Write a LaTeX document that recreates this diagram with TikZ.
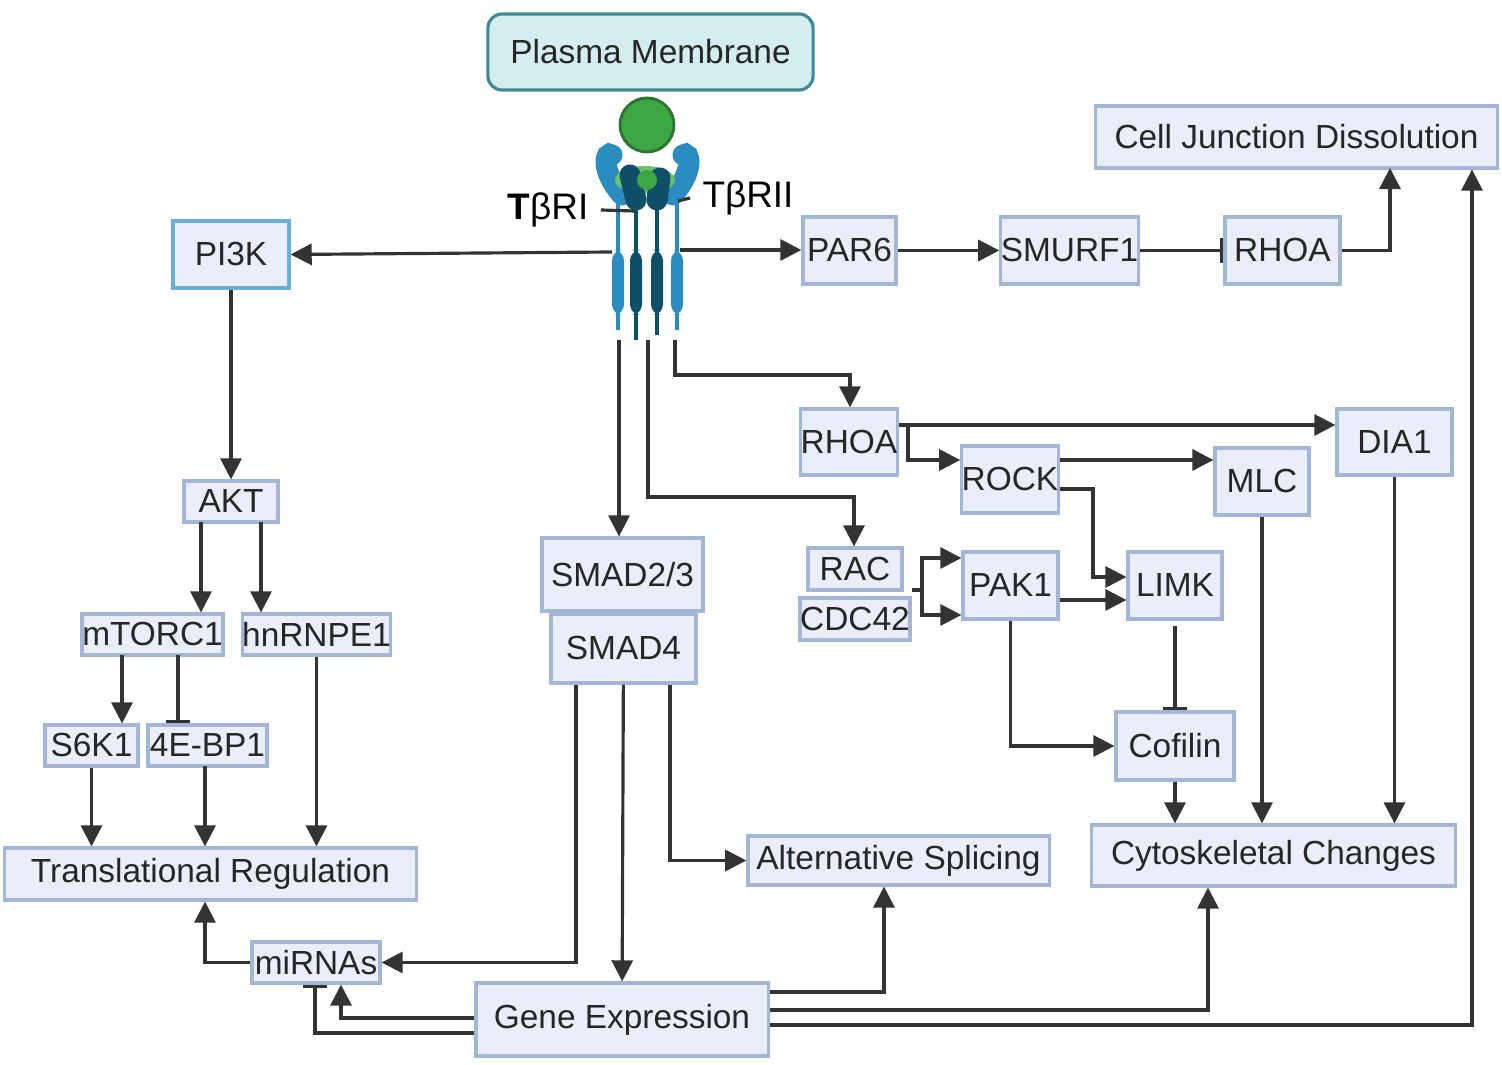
\documentclass[tikz,border=0pt]{standalone}
\usepackage{fontspec}
\setmainfont{Liberation Sans}
\usetikzlibrary{arrows.meta,calc}
\definecolor{boxfill}{HTML}{E9EEF8}
\definecolor{boxline}{HTML}{A3B6D6}
\definecolor{pmfill}{HTML}{D4EDEF}
\definecolor{pmline}{HTML}{3E8A94}
\definecolor{rlight}{HTML}{2B8CBF}
\definecolor{rdark}{HTML}{0F5068}
\definecolor{lig}{HTML}{3DA544}
\definecolor{ligl}{HTML}{6CC16E}
\tikzset{
  box/.style={draw=boxline,fill=boxfill,line width=0.9pt,inner sep=0pt,
    font=\fontsize{9.5}{11}\selectfont,text=black!85},
  arr/.style={line width=0.9pt,black!80,-{Triangle[length=6pt,width=6pt]}},
  inh/.style={line width=0.9pt,black!80,-{Bar[width=7pt]}},
  ln/.style={line width=0.9pt,black!80}
}
\begin{document}
\begin{tikzpicture}[x=0.01cm,y=-0.01cm]
\useasboundingbox (0,0) rectangle (1502,1065);

% boxes
\node[box,draw=pmline,fill=pmfill,rounded corners=4pt,minimum width=3.25cm,minimum height=0.76cm] (pm) at (650.5,52) {Plasma Membrane};
\node[box,minimum width=4.01cm,minimum height=0.62cm] (cjd) at (1296.5,137) {Cell Junction Dissolution};
\node[box,draw=rlight!70,minimum width=1.16cm,minimum height=0.67cm] (pi3k) at (231,254.5) {PI3K};
\node[box,minimum width=0.93cm,minimum height=0.67cm] (par6) at (849.5,250.5) {PAR6};
\node[box,minimum width=1.35cm,minimum height=0.67cm] (smurf) at (1069.5,250.5) {SMURF1};
\node[box,minimum width=1.15cm,minimum height=0.67cm] (rhoaA) at (1282.5,250.5) {RHOA};
\node[box,minimum width=0.94cm,minimum height=0.66cm] (rhoaB) at (849,442) {RHOA};
\node[box,minimum width=1.15cm,minimum height=0.66cm] (dia) at (1394.5,442) {DIA1};
\node[box,minimum width=0.94cm,minimum height=0.67cm] (rock) at (1010,479.5) {ROCK};
\node[box,minimum width=0.94cm,minimum height=0.67cm] (mlc) at (1262,481.5) {MLC};
\node[box,minimum width=0.94cm,minimum height=0.41cm] (akt) at (231,501.5) {AKT};
\node[box,minimum width=1.61cm,minimum height=0.73cm] (smadA) at (622.5,574.5) {SMAD2/3};
\node[box,minimum width=1.45cm,minimum height=0.69cm] (smadB) at (623.5,648.5) {SMAD4};
\node[box,minimum width=0.94cm,minimum height=0.42cm] (rac) at (855,569) {RAC};
\node[box,minimum width=1.10cm,minimum height=0.42cm] (cdc) at (855,619) {CDC42};
\node[box,minimum width=0.95cm,minimum height=0.67cm] (pak) at (1010.5,585.5) {PAK1};
\node[box,minimum width=0.94cm,minimum height=0.67cm] (limk) at (1175,585.5) {LIMK};
\node[box,minimum width=1.41cm,minimum height=0.41cm] (mtorc) at (152.5,634.5) {mTORC1};
\node[box,minimum width=1.47cm,minimum height=0.41cm] (hnrnp) at (316.5,634.5) {hnRNPE1};
\node[box,minimum width=0.93cm,minimum height=0.41cm] (s6k) at (91.5,745.5) {S6K1};
\node[box,minimum width=1.19cm,minimum height=0.41cm] (ebp) at (207.5,745.5) {4E-BP1};
\node[box,minimum width=1.18cm,minimum height=0.68cm] (cofilin) at (1175,746) {Cofilin};
\node[box,minimum width=3.01cm,minimum height=0.49cm] (alt) at (898.5,860.5) {Alternative Splicing};
\node[box,minimum width=3.63cm,minimum height=0.61cm] (cyto) at (1273.5,855.5) {Cytoskeletal Changes};
\node[box,minimum width=4.11cm,minimum height=0.52cm] (trans) at (210.5,874) {Translational Regulation};
\node[box,minimum width=1.28cm,minimum height=0.41cm] (mir) at (316,962.5) {miRNAs};
\node[box,minimum width=2.92cm,minimum height=0.73cm] (gene) at (622,1019.5) {Gene Expression};

% receptor
\draw[line width=1.2pt,rlight] (618,190) -- (618,330);
\draw[line width=1.2pt,rdark] (636,195) -- (636,340);
\draw[line width=1.2pt,rdark] (657,195) -- (657,335);
\draw[line width=1.2pt,rlight] (677,190) -- (677,330);
\foreach \x/\c in {618/rlight,636/rdark,657/rdark,677/rlight}
  \fill[\c,rounded corners=3pt] (\x-6,250) rectangle (\x+6,315);
\draw[line width=6pt,rlight,line cap=round] (622,195) .. controls (600,170) and (605,150) .. (612,155);
\draw[line width=6pt,rlight,line cap=round] (673,195) .. controls (695,170) and (690,150) .. (683,155);
\fill[ligl] (645,180) ellipse (30 and 14);
\draw[line width=6pt,rdark,line cap=round] (636,200) -- (630,175);
\draw[line width=6pt,rdark,line cap=round] (657,200) -- (660,178);
\fill[lig] (647,180) circle (10);
\draw[fill=lig,draw=lig!70!black,line width=0.8pt] (647,125) circle (27);
\node[font=\fontsize{10.5}{12}\selectfont] (tr1) at (548,210) {\textbf{T}βRI};
\node[font=\fontsize{10.5}{12}\selectfont] (tr2) at (748,198) {TβRII};
\draw[ln] (tr1.east) -- (634,211);
\draw[ln] (tr2.west) -- (678,201);
\coordinate (rL) at (612,252);
\coordinate (rR) at (680,250);
\coordinate (r1) at (619,340);
\coordinate (r2) at (648,340);
\coordinate (r3) at (675,340);

% top branch
\draw[arr] (rL) -- (pi3k.east);
\draw[arr] (rR) -- (par6.west |- rR);
\draw[arr] (par6) -- (smurf);
\draw[inh] (smurf) -- (rhoaA);
\draw[arr] (rhoaA.east) -| (1390,168);
\draw[arr] (gene.east |- 0,1025) -- (1472,1025) -- (cjd.south -| 1472,0);

% PI3K branch
\draw[arr] (pi3k) -- (akt);
\draw[arr] (201,522) -- (mtorc.north -| 201,0);
\draw[arr] (261,522) -- (hnrnp.north -| 261,0);
\draw[arr] (122,655) -- (s6k.north -| 122,0);
\draw[inh] (178,655) -- (ebp.north -| 178,0);
\draw[arr] (s6k) -- (trans.north -| s6k);
\draw[arr] (205,766) -- (trans.north -| 205,0);
\draw[arr] (hnrnp) -- (trans.north -| hnrnp);
\draw[arr] (mir.west) -| (trans.south -| 205,0);

% SMAD branch
\draw[arr] (r1) -- (smadA.north -| r1);
\draw[arr] (smadB.south -| 576,0) |- (mir.east);
\draw[arr] (smadB) -- (gene);
\draw[arr] (smadB.south -| 670,0) |- (alt.west);
\draw[arr] (gene.west |- 0,1018) -| (mir.south -| 341,0);
\draw[inh] (gene.west |- 0,1033) -| (mir.south -| 315,0);
\draw[arr] (gene.east |- 0,992) -| (alt.south -| 884,0);
\draw[arr] (gene.east |- 0,1010) -| (cyto.south -| 1208,0);

% RHO / RAC branch
\draw[arr] (r3) |- (850,375) -- (rhoaB.north -| 850,0);
\draw[arr] (r2) |- (854,497) -- (rac.north -| 854,0);
\draw[arr] (rhoaB.east |- 0,425) -- (dia.west |- 0,425);
\draw[arr] (908,425) |- (rock.west |- 0,460);
\draw[arr] (rock.east |- 0,460) -- (mlc.west |- 0,460);
\draw[arr] (rock.east |- 0,489) -| (1093,577) -- (limk.west |- 0,577);
\draw[ln] (cdc.east |- 0,590) -- (922,590);
\draw[arr] (922,590) |- (pak.west |- 0,558);
\draw[arr] (922,590) |- (pak.west |- 0,615);
\draw[arr] (pak.east |- 0,600) -- (limk.west |- 0,600);
\draw[arr] (pak.south) |- (cofilin.west);
\draw[inh] (limk.south |- 0,626) -- (cofilin.north);
\draw[arr] (cofilin) -- (cyto.north -| cofilin);
\draw[arr] (mlc) -- (cyto.north -| mlc);
\draw[arr] (dia) -- (cyto.north -| dia);
\end{tikzpicture}
\end{document}
